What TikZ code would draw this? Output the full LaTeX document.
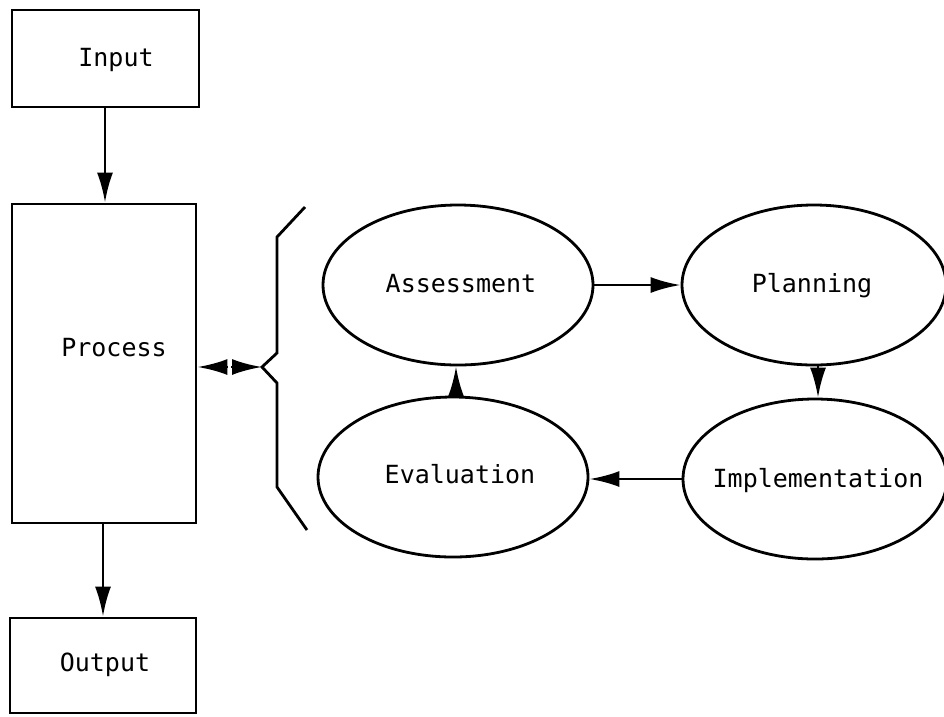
\documentclass[tikz,border=0pt]{standalone}
\usepackage{fontspec}
\newfontfamily\twfont{DejaVu Sans Mono}
\usetikzlibrary{shapes.geometric,arrows.meta}
\tikzset{
  lw/.style={line width=2.8pt},
  txt/.style={font=\twfont\fontsize{25}{30}\selectfont, text height=18pt, text depth=0pt, inner sep=0pt},
  boxnode/.style={draw, lw, rectangle, inner sep=0pt},
  ell/.style={draw, lw, ellipse, inner sep=0pt, minimum width=270pt, minimum height=160pt},
  arr/.style={lw, -{Latex[length=30pt,width=16pt]}},
  brace/.style={lw, line join=miter}
}
\begin{document}
\begin{tikzpicture}[x=1pt,y=-1pt]
\useasboundingbox (0,0) rectangle (944,716);
% boxes
\node[boxnode, minimum width=187pt, minimum height=97pt] (input) at (105.5,58.5) {};
\node[txt] (inputtxt) at (116,57) {Input};
\node[boxnode, minimum width=184pt, minimum height=319pt] (process) at (104,363.5) {};
\node[txt] (processtxt) at (114,347) {Process};
\node[boxnode, minimum width=186pt, minimum height=95pt] (output) at (103,665.5) {};
\node[txt] (outputtxt) at (105,662) {Output};
\coordinate (c1) at (105,0);
\coordinate (c2) at (103,0);
\draw[arr] (c1 |- input.south) -- (c1 |- process.north);
\draw[arr] (c2 |- process.south) -- (c2 |- output.north);
% brace
\coordinate (tip) at (262,367);
\coordinate (mL) at (228,367);
\coordinate (mR) at (231,367);
\draw[brace] (305,207) -- (277,237) -- (277,353) -- (tip) -- (277,383) -- (277,487) -- (307,530);
\draw[arr] (mL) -- (mL -| process.east);
\draw[arr] (mR) -- (tip);
% cycle
\node[ell] (assess) at (458,285) {};
\node[txt] (assesstxt) at (461,283) {Assessment};
\node[ell, minimum width=264pt] (plan) at (814,285) {};
\node[txt] (plantxt) at (812,283) {Planning};
\node[ell, minimum width=264pt] (impl) at (815,479) {};
\node[txt] (impltxt) at (818,478) {Implementation};
\node[ell] (eval) at (453,477) {};
\node[txt] (evaltxt) at (460,474) {Evaluation};
\coordinate (c3) at (456,0);
\coordinate (c4) at (818,0);
\draw[arr] (assess.east) -- (assess.east -| plan.west);
\draw[arr] (c4 |- plan.south) -- (c4 |- impl.north);
\draw[arr] (impl.west) -- (impl.west -| eval.east);
\draw[arr] (c3 |- eval.north) -- (c3 |- assess.south);
\end{tikzpicture}
\end{document}
